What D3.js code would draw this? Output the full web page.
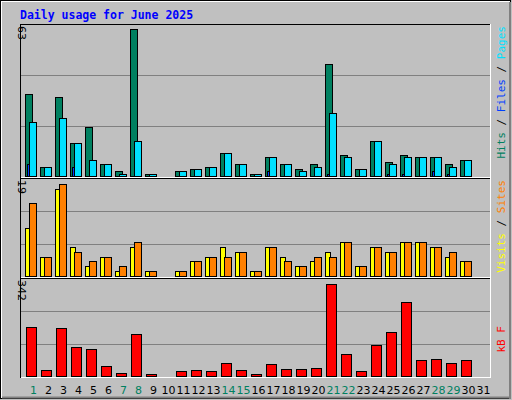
<!DOCTYPE html>
<html><head><meta charset="utf-8">
<script src="https://cdn.jsdelivr.net/npm/d3@7"></script>
<style>body{margin:0;background:#fff}svg{display:block}</style>
</head><body><svg id="c" width="512" height="400"></svg>
<script>
const days = d3.range(1, 32);
const weekend = [1,7,8,14,15,21,22,28,29];
const hits  = [35,4,34,14,21,5,2,63,1,0,2,3,4,10,5,1,8,5,3,5,48,9,3,15,6,9,8,8,5,7,0];
const files = [23,4,25,14,7,5,1,15,1,0,2,3,4,10,5,1,8,5,2,4,27,8,3,15,5,8,8,8,4,7,0];
const pages = [5,0,0,4,0,0,0,0,0,0,0,0,0,0,0,0,2,0,0,0,1,0,0,0,1,1,0,2,1,0,0];
const sites = [10,4,18,6,2,4,1,6,1,0,1,3,4,6,5,1,6,4,2,3,5,7,2,6,5,7,7,6,4,3,0];
const visits= [15,4,19,5,3,4,2,7,1,0,1,3,4,4,5,1,6,3,2,4,4,7,2,6,5,7,7,6,5,3,0];
const kb    = [181,24,177,106,99,39,12,155,9,0,20,24,20,50,24,9,46,27,27,31,342,80,20,114,162,275,61,65,50,61,0];
const maxes = {hits:63, sites:19, kb:342};

const svg = d3.select("#c");
svg.append("rect").attr("x",0).attr("y",0).attr("width",512).attr("height",400).attr("fill","#c0c0c0");
svg.append("rect").attr("x",0.5).attr("y",0.5).attr("width",510).attr("height",398).attr("fill","none").attr("stroke","#000");
svg.append("line").attr("x1",1).attr("x2",510).attr("y1",1.5).attr("y2",1.5).attr("stroke","#fff");
svg.append("line").attr("x1",1.5).attr("x2",1.5).attr("y1",1).attr("y2",398).attr("stroke","#fff");
svg.append("line").attr("x1",2).attr("x2",511).attr("y1",397.5).attr("y2",397.5).attr("stroke","#808080").attr("stroke-width",2);
svg.append("line").attr("x1",510).attr("x2",510).attr("y1",2).attr("y2",399).attr("stroke","#808080").attr("stroke-width",2);

svg.append("text").attr("x",20).attr("y",19).attr("font-family","DejaVu Sans Mono").attr("font-weight","bold")
  .attr("font-size",11.5).attr("fill","#0000ff").text("Daily usage for June 2025");

const x = d3.scaleBand().domain(days).range([24,489]).paddingInner(0);
const font = "DejaVu Sans Mono";

function panel(y0, y1, yTop, max, label, parts){
  svg.append("rect").attr("x",20.5).attr("y",y0+0.5).attr("width",470).attr("height",y1-y0).attr("fill","#c0c0c0").attr("stroke","#000");
  svg.append("line").attr("x1",21).attr("x2",491).attr("y1",y1+0.5).attr("y2",y1+0.5).attr("stroke","#fff");
  svg.append("line").attr("x1",490.5).attr("x2",490.5).attr("y1",y0).attr("y2",y1).attr("stroke","#fff");
  const y = d3.scaleLinear().domain([0,max]).range([y1-1, yTop]);
  [1/3,2/3].forEach(f=>{
    const gy = Math.round(y1 - (y1-y0)*f)+0.5;
    svg.append("line").attr("x1",21).attr("x2",490).attr("y1",gy).attr("y2",gy).attr("stroke","#808080");
  });
  svg.append("text").attr("transform",`translate(18,${y0+2}) rotate(90)`).attr("font-family","DejaVu Sans").attr("font-size",11)
    .attr("fill","#000").attr("text-anchor","start").text(label);
  return y;
}
function bars(y, data, off, w, color){
  svg.append("g").selectAll("rect").data(data).join("rect")
    .attr("x",(d,i)=>x(days[i])+off+0.5).attr("width",w)
    .attr("y",d=>Math.round(y(d))+0.5).attr("height",d=>Math.max(0,Math.round(y(0))-Math.round(y(d))))
    .attr("fill",color).attr("stroke","#000").attr("display",d=>d>0?null:"none");
}
const y1 = panel(24,177,29,maxes.hits,"63");
bars(y1, hits, 1, 7, "#008060");
bars(y1, files, 5, 7, "#00e0ff");
bars(y1, pages, 3, 2, "#0040ff");
const y2 = panel(178,277,184,maxes.sites,"19");
bars(y2, sites, 1, 5, "#ffff00");
bars(y2, visits, 5, 7, "#ff8000");
const y3 = panel(278,377,284,maxes.kb,"342");
bars(y3, kb, 2, 10, "#ff0000");

function sideLabel(yStart, parts){
  const t = svg.append("text").attr("transform",`translate(497,${yStart}) rotate(90)`).attr("font-family",font).attr("font-size",11);
  parts.forEach(p=>t.append("tspan").attr("fill",p[1]).text(p[0]));
}
sideLabel(26,[["Hits","#008060"],[" / ","#000"],["Files","#0040ff"],[" / ","#000"],["Pages","#00e0ff"]]);
sideLabel(180,[["Visits","#ffff00"],[" / ","#000"],["Sites","#ff8000"]]);
sideLabel(326,[["kB F","#ff0000"]]);
// side labels read bottom-to-top in reference
svg.selectAll("text").filter(function(){return this.getAttribute("transform")&&this.getAttribute("transform").startsWith("translate(497");})
  .each(function(){
    const tr=this.getAttribute("transform").match(/translate\(497,(\d+)\)/); const ys=+tr[1];
    const len=this.getComputedTextLength();
    this.setAttribute("transform",`translate(505,${ys+len}) rotate(-90)`);
  });

svg.append("g").selectAll("text").data(days).join("text")
  .attr("x",d=>x(d)+x.bandwidth()/2+2).attr("y",394).attr("text-anchor","middle")
  .attr("font-family","DejaVu Sans").attr("font-size",11)
  .attr("fill",d=>weekend.includes(d)?"#008060":"#000").text(d=>d);
</script></body></html>
